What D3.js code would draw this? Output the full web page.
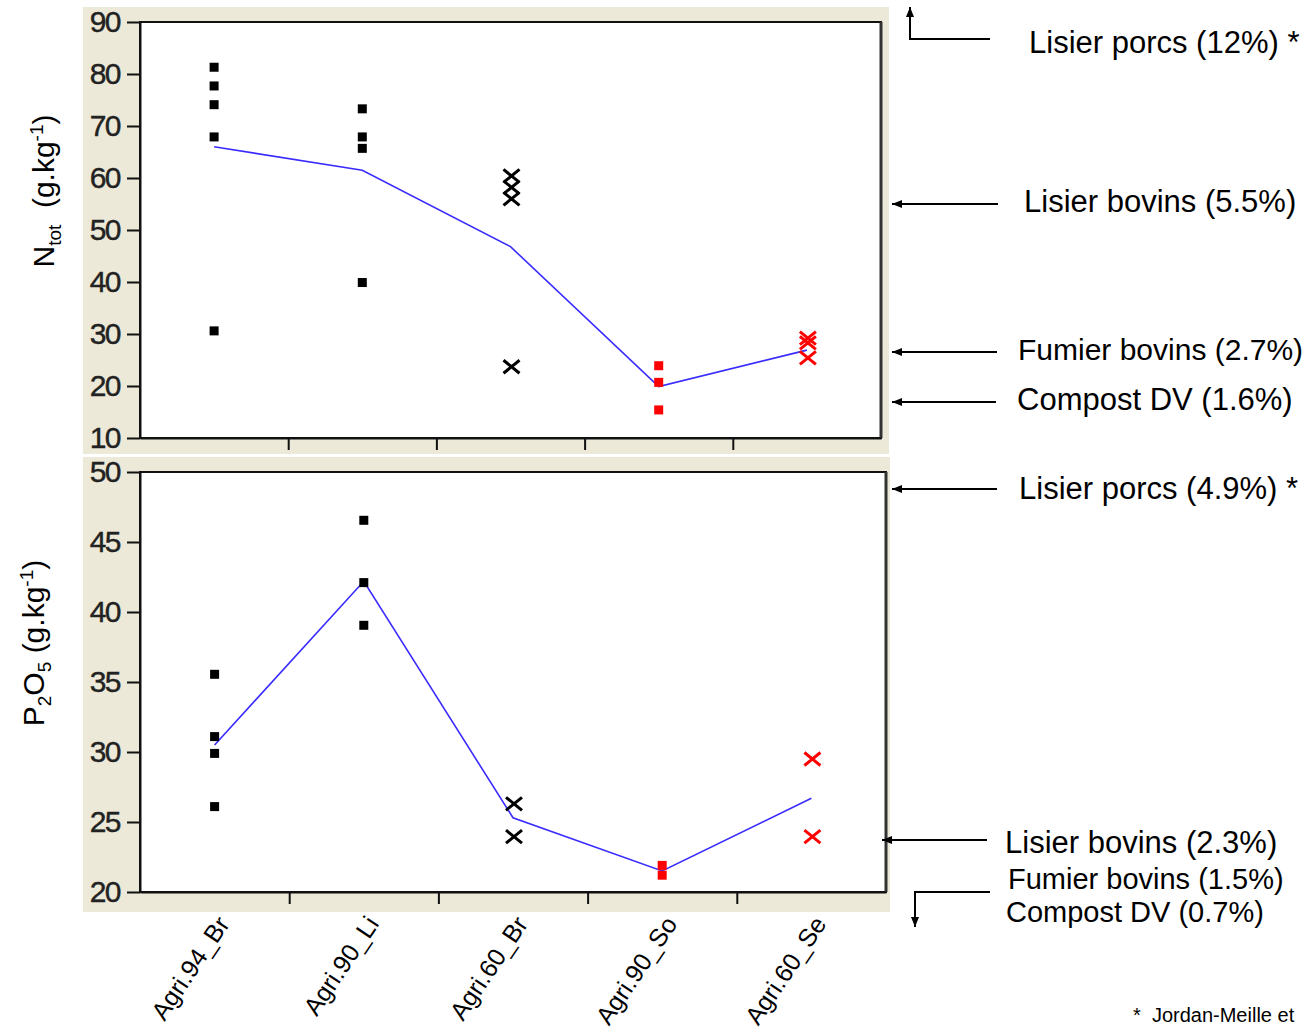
<!DOCTYPE html>
<html>
<head>
<meta charset="utf-8">
<script src="https://cdn.jsdelivr.net/npm/d3@7"></script>
<style>
  body { margin: 0; background: #fff; }
  svg { display: block; font-family: "Liberation Sans", Arial, sans-serif; }
</style>
</head>
<body>
<svg></svg>
<script>
// categories (farms) and how their points are drawn
const categories = ["Agri.94_Br", "Agri.90_Li", "Agri.60_Br", "Agri.90_So", "Agri.60_Se"];
const markerTypes = ["square", "square", "cross", "square", "cross"];
const markerColors = ["#000", "#000", "#000", "#ff0000", "#ff0000"];

// N total (g/kg), individual samples + mean line
const nTotValues = [
  [81.3, 77.7, 74.1, 67.9, 30.6],
  [73.3, 67.9, 65.7, 39.9],
  [60.4, 58.2, 56.0, 23.7],
  [23.9, 20.7, 15.4],
  [29.2, 28.3, 25.4]
];
const nTotMeans = [66.0, 61.5, 46.8, 19.9, 26.9];
const nTotTicks = [10, 20, 30, 40, 50, 60, 70, 80, 90];

// P2O5 (g/kg)
const p2o5Values = [
  [35.55, 31.1, 29.9, 26.1],
  [46.55, 42.1, 39.05],
  [26.3, 23.95],
  [21.9, 21.2],
  [29.5, 23.95]
];
const p2o5Means = [30.5, 42.2, 25.3, 21.5, 26.7];
const p2o5Ticks = [20, 25, 30, 35, 40, 45, 50];

// reference products shown on the right (value on the y axis, g/kg)
const nRefLabels = ["Lisier porcs (12%) *", "Lisier bovins (5.5%)", "Fumier bovins (2.7%)", "Compost DV (1.6%)"];
const nRefValues = [null, 55, 26.6, 16.9];   // null = off the chart (above)
const pRefLabels = ["Lisier porcs (4.9%) *", "Lisier bovins (2.3%)", "Fumier bovins (1.5%)", "Compost DV (0.7%)"];
const pRefValues = [48.8, 23.7, null, null]; // null = off the chart (below)

const footnote = "*\u00a0\u00a0Jordan-Meille et";

const size = { w: 1314, h: 1028 };
const svg = d3.select("svg").attr("width", size.w).attr("height", size.h);

const defs = svg.append("defs");
defs.append("marker")
  .attr("id", "arrow")
  .attr("viewBox", "0 0 10 8")
  .attr("refX", 10).attr("refY", 4)
  .attr("markerWidth", 10).attr("markerHeight", 8)
  .attr("markerUnits", "userSpaceOnUse")
  .attr("orient", "auto")
  .append("path").attr("d", "M0,0 L10,4 L0,8 Z").attr("fill", "#000");

// panel boxes
const panels = [
  { bg: [83, 7, 806, 447], l: 140, t: 22, r: 881, b: 438, domain: [10, 90], ticks: nTotTicks, values: nTotValues, means: nTotMeans },
  { bg: [83, 457, 807, 455], l: 140, t: 472, r: 886, b: 892, domain: [20, 50], ticks: p2o5Ticks, values: p2o5Values, means: p2o5Means }
];

panels.forEach((p, pi) => {
  const g = svg.append("g").classed("panel", true);

  g.append("rect")
    .attr("x", p.bg[0]).attr("y", p.bg[1])
    .attr("width", p.bg[2]).attr("height", p.bg[3])
    .attr("fill", "#ece9d8");

  g.append("rect")
    .attr("x", p.l).attr("y", p.t)
    .attr("width", p.r - p.l).attr("height", p.b - p.t)
    .attr("fill", "#fff").attr("stroke", "#111").attr("stroke-width", 2);
  // the right side is a bit heavier
  g.append("line")
    .attr("x1", p.r).attr("x2", p.r).attr("y1", p.t).attr("y2", p.b)
    .attr("stroke", "#333").attr("stroke-width", 3);

  const x = d3.scaleBand().domain(categories).range([p.l, p.r]);
  const cx = (c) => x(c) + x.bandwidth() / 2;
  const y = d3.scaleLinear().domain(p.domain).range([p.b, p.t]);
  p.y = y;

  // y axis
  const yAxis = g.append("g")
    .attr("transform", `translate(${p.l},0)`)
    .call(d3.axisLeft(y).tickValues(p.ticks).tickSize(13).tickSizeOuter(0).tickPadding(7));
  yAxis.select(".domain").attr("stroke", "#111").attr("stroke-width", 2);
  yAxis.selectAll(".tick line").attr("stroke", "#111").attr("stroke-width", 2);
  yAxis.selectAll(".tick text")
    .attr("font-family", "'Liberation Sans', Arial, sans-serif")
    .attr("font-size", 30)
    .attr("letter-spacing", -1.5)
    .attr("fill", "#222")
    .attr("stroke", "#222")
    .attr("stroke-width", 0.4);

  // x axis: ticks between the categories
  const xEdge = d3.scaleLinear().domain([0, categories.length]).range([p.l, p.r]);
  const xAxis = g.append("g")
    .attr("transform", `translate(0,${p.b})`)
    .call(d3.axisBottom(xEdge).tickValues(d3.range(1, categories.length)).tickSize(12).tickSizeOuter(0).tickFormat(""));
  xAxis.select(".domain").attr("stroke", "#111").attr("stroke-width", 2);
  xAxis.selectAll(".tick line").attr("stroke", "#111").attr("stroke-width", 2);

  // mean line
  const line = d3.line().x((d, i) => cx(categories[i])).y((d) => y(d));
  g.append("path")
    .datum(p.means)
    .attr("d", line)
    .attr("fill", "none")
    .attr("stroke", "#3a2cff")
    .attr("stroke-width", 1.6);

  // points
  const pts = [];
  p.values.forEach((vals, i) => vals.forEach((v) => pts.push({ c: categories[i], i: i, v: v })));

  g.selectAll("rect.pt")
    .data(pts.filter((d) => markerTypes[d.i] === "square"))
    .join("rect")
    .classed("pt", true)
    .attr("x", (d) => cx(d.c) - 4.5)
    .attr("y", (d) => y(d.v) - 4.5)
    .attr("width", 9).attr("height", 9)
    .attr("fill", (d) => markerColors[d.i]);

  g.selectAll("path.pt")
    .data(pts.filter((d) => markerTypes[d.i] === "cross"))
    .join("path")
    .classed("pt", true)
    .attr("transform", (d) => `translate(${cx(d.c) + 1},${y(d.v)})`)
    .attr("d", "M-8,-6.5L8,6.5M-8,6.5L8,-6.5")
    .attr("fill", "none")
    .attr("stroke", (d) => markerColors[d.i])
    .attr("stroke-width", 3);

  // category labels under the lower panel
  if (pi === 1) {
    g.selectAll("text.cat")
      .data(categories)
      .join("text")
      .classed("cat", true)
      .attr("transform", (d) => `translate(${cx(d) + 16},${924}) rotate(-56)`)
      .attr("text-anchor", "end")
      .attr("font-size", 25)
      .attr("fill", "#000")
      .text((d) => d);
  }
});

// y axis titles
function axisTitle(x, y, parts) {
  const t = svg.append("text")
    .attr("transform", `translate(${x},${y}) rotate(-90)`)
    .attr("text-anchor", "middle")
    .attr("font-size", 30)
    .attr("fill", "#000");
  parts.forEach((p) => {
    const s = t.append("tspan").text(p.text);
    if (p.sub) s.attr("font-size", 19).attr("dy", 7);
    if (p.sup) s.attr("font-size", 19).attr("dy", -11);
    if (p.back) s.attr("dy", p.back);
  });
  return t;
}
axisTitle(54, 191, [
  { text: "N" }, { text: "tot", sub: true }, { text: "\u00a0\u00a0(g.kg", back: -7 }, { text: "-1", sup: true }, { text: ")", back: 11 }
]);
axisTitle(44, 643, [
  { text: "P" }, { text: "2", sub: true }, { text: "O", back: -7 }, { text: "5", sub: true },
  { text: "\u00a0(g.kg", back: -7 }, { text: "-1", sup: true }, { text: ")", back: 11 }
]);

// reference annotations on the right
const ann = svg.append("g").attr("font-size", 31).attr("fill", "#000");
function arrow(points) {
  ann.append("path")
    .attr("d", d3.line()(points))
    .attr("fill", "none")
    .attr("stroke", "#000")
    .attr("stroke-width", 2)
    .attr("marker-end", "url(#arrow)");
}
function label(text, x, y, fs) {
  const t = ann.append("text").attr("x", x).attr("y", y).text(text);
  if (fs) t.attr("font-size", fs);
}

const yN = panels[0].y, yP = panels[1].y;
// N panel
arrow([[990, 39], [910, 39], [910, 7]]);
label(nRefLabels[0], 1029, 53);
[1, 2, 3].forEach((k, j) => {
  const ay = Math.round(yN(nRefValues[k]));
  const x0 = [998, 997, 996][j];
  arrow([[x0, ay], [892, ay]]);
  label(nRefLabels[k], [1024, 1018, 1017][j], ay + 8, j === 1 ? 30 : null);
});
// P panel
{
  const ay = Math.round(yP(pRefValues[0]));
  arrow([[997, ay], [892, ay]]);
  label(pRefLabels[0], 1019, ay + 10);
  const by = Math.round(yP(pRefValues[1]));
  arrow([[987, by], [882, by]]);
  label(pRefLabels[1], 1005, by + 13);
  arrow([[990, 892], [915, 892], [915, 927]]);
  label(pRefLabels[2], 1008, 889, 29);
  label(pRefLabels[3], 1006, 922, 29);
}

svg.append("text")
  .attr("x", 1133).attr("y", 1022)
  .attr("font-size", 20)
  .text(footnote);
</script>
</body>
</html>
